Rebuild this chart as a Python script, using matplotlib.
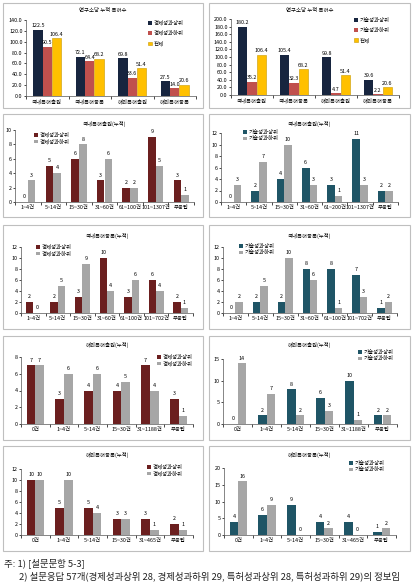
import matplotlib
matplotlib.use("Agg")
import matplotlib.pyplot as plt
import numpy as np
from matplotlib.patches import Rectangle

plt.rcParams['font.family'] = ['Noto Sans CJK KR', 'DejaVu Sans']

W, H = 413, 587
fig = plt.figure(figsize=(W/100, H/100), dpi=100)

# ---------------- data ----------------
top_cats = ['국내특허출원', '국내특허등록', '해외특허출원', '해외특허등록']
econ_hi_avg = [122.5, 72.1, 69.8, 27.5]
econ_lo_avg = [90.5, 64.4, 33.6, 14.0]
total_avg = [106.4, 68.2, 51.4, 20.6]
tech_hi_avg = [180.2, 105.4, 99.8, 39.6]
tech_lo_avg = [35.2, 32.3, 4.7, 2.2]

dom_app_cats_e = ['1~4건', '5~14건', '15~30건', '31~60건', '61~100건', '101~1307건', '무응답']
dom_app_econ_hi = [0, 5, 6, 3, 2, 9, 3]
dom_app_econ_lo = [3, 4, 8, 6, 2, 5, 1]
dom_app_cats_t = ['1~4건', '5~14건', '15~30건', '31~60건', '61~200건', '101~1307건', '무응답']
dom_app_tech_hi = [0, 2, 4, 6, 3, 11, 2]
dom_app_tech_lo = [3, 7, 10, 3, 1, 3, 2]

dom_reg_cats = ['1~4건', '5~14건', '15~30건', '31~60건', '61~100건', '101~702건', '무응답']
dom_reg_econ_hi = [2, 2, 3, 10, 3, 6, 2]
dom_reg_econ_lo = [0, 5, 9, 4, 6, 4, 1]
dom_reg_tech_hi = [0, 2, 2, 8, 8, 7, 1]
dom_reg_tech_lo = [2, 5, 10, 6, 1, 3, 2]

for_app_cats = ['0건', '1~4건', '5~14건', '15~30건', '31~1188건', '무응답']
for_app_econ_hi = [7, 3, 4, 4, 7, 3]
for_app_econ_lo = [7, 6, 6, 5, 4, 1]
for_app_tech_hi = [0, 2, 8, 6, 10, 2]
for_app_tech_lo = [14, 7, 2, 3, 1, 2]

for_reg_cats = ['0건', '1~4건', '5~14건', '15~30건', '31~465건', '무응답']
for_reg_econ_hi = [10, 5, 5, 3, 3, 2]
for_reg_econ_lo = [10, 10, 4, 3, 1, 1]
for_reg_tech_hi = [4, 6, 9, 4, 4, 1]
for_reg_tech_lo = [16, 9, 0, 2, 0, 2]

# ---------------- style ----------------
NAVY = '#17253F'
RED = '#C0504D'
YELLOW = '#FFC000'
MAROON = '#6B1F1F'
GRAY = '#A6A6A6'
TEAL = '#1F5566'
BORDER = '#BFBFBF'
FS = 3.9


def frame(x0, y0, x1, y1):
    fig.patches.append(Rectangle((x0/W, 1-y1/H), (x1-x0)/W, (y1-y0)/H,
                                 transform=fig.transFigure, fill=False,
                                 edgecolor=BORDER, linewidth=0.8))


def make_ax(x0, y0, x1, y1):
    ax = fig.add_axes([x0/W, 1-y1/H, (x1-x0)/W, (y1-y0)/H])
    for s in ['top', 'right']:
        ax.spines[s].set_visible(False)
    for s in ['left', 'bottom']:
        ax.spines[s].set_linewidth(0.5)
        ax.spines[s].set_color('#555555')
    ax.tick_params(axis='y', labelsize=FS, length=1.5, width=0.5, pad=1)
    ax.tick_params(axis='x', which='major', length=0, labelsize=FS, pad=2)
    ax.tick_params(axis='x', which='minor', length=2.5, width=0.5)
    return ax


def pair_chart(box, cats, hi, lo, c_hi, ylim, ystep, title, title_y, labels, leg_xy):
    ax = make_ax(*box)
    n = len(cats)
    x = np.arange(n)
    w = 0.3
    b1 = ax.bar(x - w/2, hi, w, color=c_hi, label=labels[0])
    b2 = ax.bar(x + w/2, lo, w, color=GRAY, label=labels[1])
    for bars, vals in ((b1, hi), (b2, lo)):
        for r, v in zip(bars, vals):
            ax.text(r.get_x() + r.get_width()/2, v + ylim*0.04, f'{v}',
                    ha='center', va='bottom', fontsize=FS)
    ax.set_xlim(-0.5, n - 0.5)
    ax.set_ylim(0, ylim)
    ax.set_yticks(np.arange(0, ylim + 0.001, ystep))
    ax.set_xticks(x)
    ax.set_xticklabels(cats)
    ax.set_xticks(np.arange(-0.5, n, 1), minor=True)
    cx = (box[0] + box[2]) / 2
    fig.text(cx/W, 1-title_y/H, title, ha='center', va='center', fontsize=FS)
    ax.legend(loc='upper left', bbox_to_anchor=(leg_xy[0]/W, 1-leg_xy[1]/H),
              bbox_transform=fig.transFigure, frameon=False, fontsize=FS,
              handlelength=0.7, handleheight=0.7, handletextpad=0.3,
              labelspacing=0.25, borderpad=0, borderaxespad=0)
    return ax


def triple_chart(box, hi, lo, tot, labels, ylim, leg_xy):
    ax = make_ax(*box)
    n = len(top_cats)
    x = np.arange(n)
    w = 0.22
    b1 = ax.bar(x - w, hi, w, color=NAVY, label=labels[0])
    b2 = ax.bar(x, lo, w, color=RED, label=labels[1])
    b3 = ax.bar(x + w, tot, w, color=YELLOW, edgecolor='#C99A00', linewidth=0.4, label=labels[2])
    for bars, vals in ((b1, hi), (b2, lo), (b3, tot)):
        for r, v in zip(bars, vals):
            ax.text(r.get_x() + r.get_width()/2, v + ylim*0.02, f'{v:.1f}',
                    ha='center', va='bottom', fontsize=FS)
    ax.set_xlim(-0.5, n - 0.5)
    ax.set_ylim(0, ylim)
    ax.set_yticks(np.arange(0, ylim + 0.001, 20))
    ax.set_yticklabels([f'{v:.1f}' for v in np.arange(0, ylim + 0.001, 20)])
    ax.set_xticks(x)
    ax.set_xticklabels(top_cats)
    ax.set_xticks(np.arange(-0.5, n, 1), minor=True)
    ax.legend(loc='upper left', bbox_to_anchor=(leg_xy[0]/W, 1-leg_xy[1]/H),
              bbox_transform=fig.transFigure, frameon=False, fontsize=FS,
              handlelength=0.7, handleheight=0.7, handletextpad=0.3,
              labelspacing=0.9, borderpad=0, borderaxespad=0)
    return ax


# frames
rows = [(3, 108), (114, 217), (225, 329), (336, 440), (446, 551)]
for (y0, y1) in rows:
    frame(3, y0, 203, y1)
    frame(209, y0, 410, y1)

# row 1
triple_chart((26, 20, 196, 96), econ_hi_avg, econ_lo_avg, total_avg,
             ['경제성과상위', '경제성과하위', '전체'], 140, (148, 20))
fig.text(103/W, 1-10/H, '연구소당 누적 특허수', ha='center', va='center', fontsize=FS)
triple_chart((231, 19, 399, 95), tech_hi_avg, tech_lo_avg, total_avg,
             ['기술성과상위', '기술성과하위', '전체'], 200, (354, 18))
fig.text(310/W, 1-10/H, '연구소당 누적 특허수', ha='center', va='center', fontsize=FS)

econ_lab = ['경제성과상위', '경제성과하위']
tech_lab = ['기술성과상위', '기술성과하위']

# row 2
pair_chart((15, 130, 194, 202), dom_app_cats_e, dom_app_econ_hi, dom_app_econ_lo, MAROON,
           10, 2, '국내특허출원(누적)', 124, econ_lab, (34, 132))
pair_chart((221, 133, 398, 202), dom_app_cats_t, dom_app_tech_hi, dom_app_tech_lo, TEAL,
           12, 2, '국내특허출원(누적)', 124, tech_lab, (243, 130))
# row 3
pair_chart((21, 247, 193, 313), dom_reg_cats, dom_reg_econ_hi, dom_reg_econ_lo, MAROON,
           12, 2, '국내특허등록(누적)', 236, econ_lab, (36, 244))
pair_chart((223, 247, 397, 313), dom_reg_cats, dom_reg_tech_hi, dom_reg_tech_lo, TEAL,
           12, 2, '국내특허등록(누적)', 236, tech_lab, (239, 244))
# row 4
pair_chart((21, 357, 193, 424), for_app_cats, for_app_econ_hi, for_app_econ_lo, MAROON,
           8, 2, '해외특허출원(누적)', 345, econ_lab, (157, 354))
pair_chart((223, 359, 397, 424), for_app_cats, for_app_tech_hi, for_app_tech_lo, TEAL,
           15, 5, '해외특허출원(누적)', 345, tech_lab, (358, 350))
# row 5
pair_chart((21, 469, 193, 535), for_reg_cats, for_reg_econ_hi, for_reg_econ_lo, MAROON,
           12, 2, '해외특허등록(누적)', 455, econ_lab, (147, 464))
pair_chart((224, 468, 396, 535), for_reg_cats, for_reg_tech_hi, for_reg_tech_lo, TEAL,
           20, 5, '해외특허등록(누적)', 455, tech_lab, (349, 461))

# footnotes
fig.text(4/W, 1-563/H, '주: 1) [설문문항 5-3]', ha='left', va='center', fontsize=6.8, color='#222222')
fig.text(19/W, 1-576/H, '2) 설문응답 57개(경제성과상위 28, 경제성과하위 29, 특허성과상위 28, 특허성과하위 29)의 정보임',
         ha='left', va='center', fontsize=6.8, color='#222222')

fig.savefig('out.png', dpi=100)
